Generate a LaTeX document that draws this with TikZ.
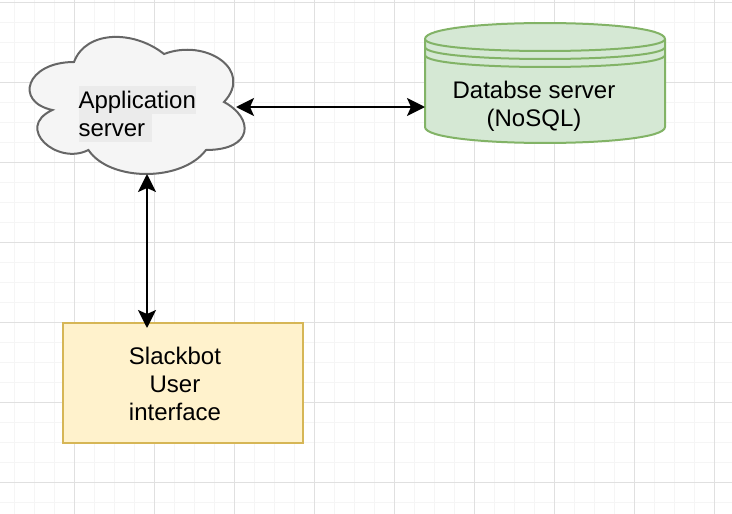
\documentclass[tikz,border=0pt]{standalone}
\usepackage{fontspec}
\setmainfont{Liberation Sans}
\usetikzlibrary{arrows.meta}

\begin{document}
\begin{tikzpicture}[x=1pt, y=-1pt,
	gridminor/.style = {draw=black!4, line width=1pt},
	gridmajor/.style = {draw=black!12, line width=1pt},
	main/.style = {font=\fontsize{24}{28}\selectfont, align=center, inner sep=0pt},
	hilite/.style = {main, fill=black!8, text height=22pt, text depth=6pt, anchor=north west},
	cloudbody/.style = {draw=black!60, fill=black!4, line width=2pt},
	storebody/.style = {draw=storeline, fill=storefill, line width=2pt},
	uibox/.style = {draw=uiline, fill=uifill, line width=2pt, minimum width=240pt, minimum height=120pt},
	link/.style = {line width=2pt, {Stealth[length=18pt, width=18pt, inset=4pt]}-{Stealth[length=18pt, width=18pt, inset=4pt]}}]
	\definecolor{storeline}{HTML}{82B366}
	\definecolor{storefill}{HTML}{D5E8D4}
	\definecolor{uiline}{HTML}{D6B656}
	\definecolor{uifill}{HTML}{FFF2CC}

	\useasboundingbox (0,0) rectangle (732,514);
	\foreach \x in {14,34,...,734} \draw[gridminor] (\x,0) -- (\x,514);
	\foreach \y in {2,22,...,514} \draw[gridminor] (0,\y) -- (732,\y);
	\foreach \x in {74,154,...,714} \draw[gridmajor] (\x,0) -- (\x,514);
	\foreach \y in {2,82,...,482} \draw[gridmajor] (0,\y) -- (732,\y);

	\draw[cloudbody] (74,62) .. controls (26,62) and (14,102) .. (52.4,110)
		.. controls (14,127.6) and (57.2,166) .. (88.4,150)
		.. controls (110,182) and (182,182) .. (206,150)
		.. controls (254,150) and (254,118) .. (224,102)
		.. controls (254,70) and (206,38) .. (164,54)
		.. controls (134,30) and (86,30) .. (74,62) -- cycle;
	\node[hilite] (app1) at (78.3,86) {Application};
	\node[hilite] (app2) at (78.3,114) {server~};

	\draw[storebody] (425,39) .. controls (425,17.7) and (665,17.7) .. (665,39)
		-- (665,127) .. controls (665,148.3) and (425,148.3) .. (425,127) -- cycle;
	\draw[storebody, fill=none] (425,39) .. controls (425,55) and (665,55) .. (665,39);
	\draw[storebody, fill=none] (425,47) .. controls (425,63) and (665,63) .. (665,47);
	\draw[storebody, fill=none] (425,55) .. controls (425,71) and (665,71) .. (665,55);
	\node[main] (db) at (534,106) {Databse server\\(NoSQL)};

	\node[uibox] (ui) at (183,383) {};
	\node[main] (uitext) at (175,384) {Slackbot\\User\\interface};

	\coordinate (appeast) at (236,107);
	\coordinate (dbwest) at (425,107);
	\coordinate (appsouth) at (147,174);
	\coordinate (uinorth) at (147,328);
	\draw[link] (appeast) -- (dbwest);
	\draw[link] (appsouth) -- (uinorth);
\end{tikzpicture}
\end{document}
